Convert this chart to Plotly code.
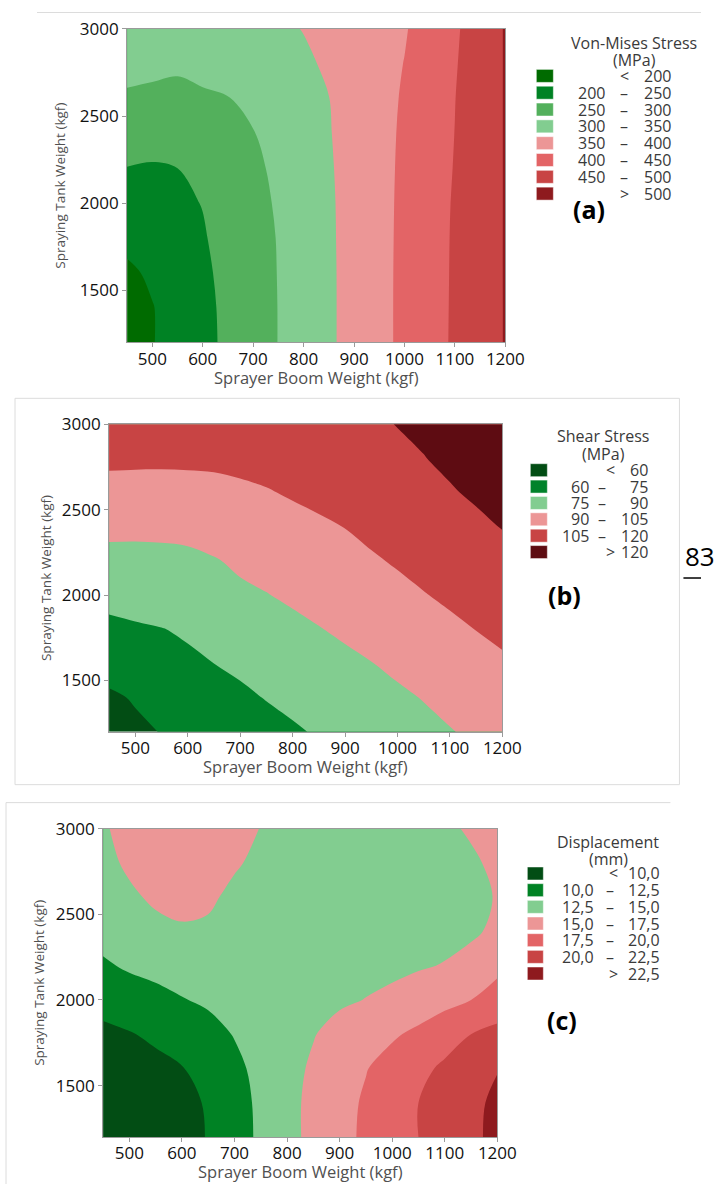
import plotly.graph_objects as go

# ---------------- data ----------------
x_boom = [450, 500, 550, 600, 650, 700, 750, 800, 850, 900, 950, 1000, 1050, 1100, 1150, 1200]
y_tank = [1200, 1400, 1600, 1800, 2000, 2200, 2400, 2600, 2800, 3000]

# (a) Von-Mises stress (MPa), one row per tank weight
von_mises = [
    [178, 198, 218, 238, 258.5, 279.7, 300.8, 322, 343.2, 365.2, 387.5, 410.1, 433, 456, 479.2, 502.3],
    [184, 198.3, 218.2, 238.8, 259.5, 280.2, 300.8, 322, 343.2, 365.2, 387.5, 410.1, 432.7, 455.6, 478.9, 502.3],
    [192, 207, 224.6, 242.3, 261.2, 281.2, 301.3, 322.3, 343.3, 365.2, 387.5, 409.9, 432.4, 455.2, 478.8, 502.4],
    [212, 222, 234, 246.8, 263.7, 282.8, 302.1, 322.9, 343.8, 365.4, 387.3, 409.5, 432, 454.8, 478.6, 502.4],
    [231, 234, 243, 251.1, 268.8, 286.5, 304.8, 324.6, 344.4, 365.5, 387.1, 408.9, 431.2, 453.9, 478.2, 502.4],
    [249, 246, 250, 264, 278, 292, 308, 326.9, 345.8, 366.1, 386.8, 407.9, 429.8, 452, 477.3, 502.5],
    [270.7, 268, 267.5, 277.8, 288.2, 298.5, 314.3, 331, 347.7, 366.8, 386.3, 406.6, 428.5, 450.5, 476.6, 502.6],
    [292.5, 290, 287.5, 292.9, 298.4, 309.6, 322.9, 336.2, 349.5, 367.4, 385.5, 404.4, 426.5, 449.3, 475.5, 502.7],
    [316.4, 311, 307, 314.5, 322, 329.6, 337.2, 344.7, 354.6, 369.9, 385.3, 400.9, 423.9, 446.8, 474.4, 502.8],
    [332, 328, 326, 328, 333, 338, 344, 351, 363.2, 374.4, 385.7, 396.9, 418.4, 443.9, 472.9, 503],
]
vm_levels = [200, 250, 300, 350, 400, 450, 500]
vm_colors = ["#006b00", "#008224", "#53b05c", "#82cd90", "#ec9696", "#e36466", "#c84444", "#8e1a1e"]

# (b) Shear stress (MPa)
shear = [
    [53, 57.7, 60.4, 63, 65.6, 68.3, 70.9, 73.5, 76.2, 78.8, 81.4, 84.1, 86.8, 89.4, 92.1, 94.7],
    [58.1, 61, 63.9, 66.8, 69.7, 72.7, 75.5, 78, 80.5, 83, 85.5, 88, 90.5, 93.3, 96.2, 99],
    [65.1, 67.6, 70, 72.5, 75, 77.4, 79.9, 82.3, 84.8, 87.2, 89.7, 92.4, 95.1, 97.8, 100.6, 103.3],
    [72, 73.3, 74.6, 76.8, 79.3, 81.9, 84.4, 87, 89.5, 92.1, 94.8, 97.4, 100, 102.6, 105.2, 107.6],
    [79, 80.8, 82.5, 84.3, 86.1, 87.9, 89.6, 92, 94.5, 97, 99.5, 102, 104.5, 107, 109.4, 111.9],
    [86, 86, 86.3, 86.8, 89.2, 91.9, 94.2, 96.6, 99, 101.3, 103.7, 106.1, 108.6, 111.1, 113.6, 116.1],
    [93.2, 93, 93.3, 94.2, 95.5, 97.3, 99.4, 101.2, 103, 105.2, 107.8, 110.3, 112.8, 115.3, 117.8, 120.4],
    [100.4, 100.1, 100.1, 100.4, 101, 102.6, 104.2, 106.2, 108.3, 110.5, 112.6, 114.8, 116.9, 119.1, 121.5, 123.8],
    [107.6, 107.4, 107.3, 107.4, 107.7, 108.4, 109.3, 110.5, 111.8, 114, 116.5, 118.3, 119.7, 122, 124.5, 127],
    [114.5, 114.3, 114.2, 114.3, 114.6, 115, 115.5, 116, 116.6, 117.6, 118.8, 120.2, 122, 124, 126, 128],
]
sh_levels = [60, 75, 90, 105, 120]
sh_colors = ["#024d14", "#00822a", "#82cd90", "#ec9696", "#c84444", "#5e0c12"]

# (c) Displacement (mm)
displacement = [
    [7.5, 8.0, 8.6, 9.3, 10.1, 11.5, 12.9, 14.3, 15.6, 16.8, 17.9, 19.0, 20.0, 21.0, 22.0, 23.1],
    [7.6, 8.1, 8.7, 9.4, 10.2, 11.5, 13.0, 14.3, 15.6, 16.7, 17.8, 18.9, 20.0, 21.0, 21.9, 23.0],
    [8.3, 8.8, 9.4, 9.9, 10.9, 12.0, 13.1, 14.3, 15.3, 16.4, 17.4, 18.4, 19.4, 20.4, 21.4, 22.4],
    [9.5, 9.86, 10.4, 11.1, 11.8, 12.6, 13.3, 14.1, 14.9, 15.7, 16.4, 17.2, 18.0, 19.0, 20.0, 20.6],
    [10.8, 11.35, 11.9, 12.4, 12.8, 13.2, 13.6, 13.9, 14.3, 14.7, 15.05, 15.5, 16.1, 16.8, 17.5, 18.7],
    [12.2, 12.8, 13.1, 13.4, 13.6, 13.8, 13.9, 14.0, 14.1, 14.25, 14.4, 14.5, 14.8, 15.1, 15.9, 16.8],
    [13.3, 14.0, 14.5, 14.8, 14.7, 14.4, 14.1, 13.9, 13.9, 13.9, 14.0, 14.1, 14.25, 14.4, 14.6, 15.5],
    [13.9, 14.7, 15.3, 15.5, 15.3, 14.6, 14.2, 14.0, 13.9, 13.9, 14.0, 14.1, 14.2, 14.35, 14.55, 15.1],
    [14.5, 15.3, 15.8, 16.0, 15.8, 15.2, 14.6, 14.2, 14.0, 13.9, 14.0, 14.1, 14.3, 14.5, 14.75, 15.35],
    [14.8, 15.6, 16.2, 16.4, 16.2, 15.7, 14.95, 14.5, 14.2, 14.1, 14.1, 14.2, 14.4, 14.7, 15.2, 16.0],
]
dp_levels = [10.0, 12.5, 15.0, 17.5, 20.0, 22.5]
dp_colors = ["#024d14", "#008224", "#82cd90", "#ec9696", "#e36466", "#c84444", "#8e1a1e"]
dp_labels = ["10,0", "12,5", "15,0", "17,5", "20,0", "22,5"]

x_ticks = [500, 600, 700, 800, 900, 1000, 1100, 1200]
y_ticks = [1500, 2000, 2500, 3000]

# ---------------- layout helpers (reference pixel -> paper) ----------------
W, H = 720, 1184
FONT = "Open Sans"
SX, OY, SY = 0.973, 10.0, 0.9916   # measured render correction


def px(x):
    return min(x / SX, W) / W


def py(y):
    return 1 - max((y - OY) / SY, 0.5) / H


panels = [
    dict(z=von_mises, levels=vm_levels, colors=vm_colors, labels=[str(v) for v in vm_levels],
         box=(127, 505, 27, 341), title=("Von-Mises Stress", "(MPa)"), tcx=634, t1y=41, t2y=58,
         sw=(536, 553), row0=74, dy=16.85, lnum=607, mid=624, lt=624, rnum=673,
         tag="(a)", tagxy=(589, 207), ytitle_x=60),
    dict(z=shear, levels=sh_levels, colors=sh_colors, labels=[str(v) for v in sh_levels],
         box=(109, 502, 423, 731), title=("Shear Stress", "(MPa)"), tcx=603, t1y=435, t2y=453,
         sw=(530, 547), row0=469, dy=16.4, lnum=591, mid=602, lt=610, rnum=650,
         tag="(b)", tagxy=(564, 594), ytitle_x=46),
    dict(z=displacement, levels=dp_levels, colors=dp_colors, labels=dp_labels,
         box=(103, 497, 828, 1137), title=("Displacement", "(mm)"), tcx=608, t1y=841, t2y=858,
         sw=(527, 543), row0=873, dy=16.7, lnum=596, mid=610, lt=613, rnum=662,
         tag="(c)", tagxy=(562, 1020), ytitle_x=39),
]

fig = go.Figure()
shapes = []
annotations = []
layout_axes = {}
LEG_FONT = dict(family=FONT, size=16, color="#3a3a3a")

for i, p in enumerate(panels, start=1):
    sfx = "" if i == 1 else str(i)
    lv = p["levels"]
    n = len(lv)
    step = lv[1] - lv[0]
    cscale = [[k / n, c] for k, c in enumerate(p["colors"])]
    fig.add_trace(go.Contour(
        x=x_boom, y=y_tank, z=p["z"],
        xaxis="x" + sfx, yaxis="y" + sfx,
        autocontour=False,
        contours=dict(start=lv[0], end=lv[-1], size=step, coloring="fill", showlines=False),
        colorscale=cscale, showscale=False,
        line=dict(width=0, smoothing=1.0),
        hoverinfo="skip",
    ))
    l, r, t, b = p["box"]
    axis_common = dict(showgrid=False, zeroline=False, showline=True, linecolor="#9a9a9a",
                       linewidth=1, mirror=True, ticks="outside", ticklen=4, tickcolor="#9a9a9a",
                       tickfont=dict(family=FONT, size=17, color="#111111"))
    layout_axes["xaxis" + sfx] = dict(domain=[px(l), px(r)], range=[450, 1200], tickvals=x_ticks,
                                      anchor="y" + sfx, ticklabelstandoff=-3, **axis_common)
    layout_axes["yaxis" + sfx] = dict(domain=[py(b), py(t)], range=[1200, 3000], tickvals=y_ticks,
                                      anchor="x" + sfx, **axis_common)
    # axis titles
    annotations.append(dict(text="Sprayer Boom Weight (kgf)", x=px((l + r) / 2), y=py(b + 35),
                            xref="paper", yref="paper", showarrow=False, xanchor="center", yanchor="middle",
                            font=dict(family=FONT, size=16.5, color="#505050")))
    annotations.append(dict(text="Spraying Tank Weight (kgf)", x=px(p["ytitle_x"]), y=py((t + b) / 2),
                            xref="paper", yref="paper", showarrow=False, textangle=-90,
                            xanchor="center", yanchor="middle",
                            font=dict(family=FONT, size=13.5, color="#505050")))
    # legend titles
    for txt, yy in ((p["title"][0], p["t1y"]), (p["title"][1], p["t2y"])):
        annotations.append(dict(text=txt, x=px(p["tcx"]), y=py(yy), xref="paper", yref="paper",
                                showarrow=False, xanchor="center", yanchor="middle", font=LEG_FONT))
    # legend rows
    labs = p["labels"]
    for k, c in enumerate(p["colors"]):
        yc = p["row0"] + k * p["dy"]
        shapes.append(dict(type="rect", xref="paper", yref="paper",
                           x0=px(p["sw"][0]), x1=px(p["sw"][1]), y0=py(yc + 6.5), y1=py(yc - 6.5),
                           fillcolor=c, line=dict(width=0.8, color="rgba(255,255,255,0.6)")))
        if k == 0:
            left, mid, right, mx = "", "<", labs[0], p["lt"]
        elif k == len(p["colors"]) - 1:
            left, mid, right, mx = "", ">", labs[-1], p["lt"]
        else:
            left, mid, right, mx = labs[k - 1], "\u2013", labs[k], p["mid"]
        if left:
            annotations.append(dict(text=left, x=px(p["lnum"]), y=py(yc), xref="paper", yref="paper",
                                    showarrow=False, xanchor="right", yanchor="middle", font=LEG_FONT))
        annotations.append(dict(text=mid, x=px(mx), y=py(yc), xref="paper", yref="paper",
                                showarrow=False, xanchor="center", yanchor="middle", font=LEG_FONT))
        annotations.append(dict(text=right, x=px(p["rnum"]), y=py(yc), xref="paper", yref="paper",
                                showarrow=False, xanchor="right", yanchor="middle", font=LEG_FONT))
    # panel tag
    annotations.append(dict(text="<b>%s</b>" % p["tag"], x=px(p["tagxy"][0]), y=py(p["tagxy"][1]),
                            xref="paper", yref="paper", showarrow=False, xanchor="center", yanchor="middle",
                            font=dict(family=FONT, size=25, color="#000000")))

# page decorations (frames, page number)
frame = dict(color="#dcdcdc", width=1)
shapes += [
    dict(type="line", xref="paper", yref="paper", x0=px(37), x1=px(720), y0=py(1), y1=py(1), line=frame),
    dict(type="rect", xref="paper", yref="paper", x0=px(15), x1=px(679), y0=py(784), y1=py(397), line=frame),
    dict(type="line", xref="paper", yref="paper", x0=px(6), x1=px(670), y0=py(802), y1=py(802), line=frame),
    dict(type="line", xref="paper", yref="paper", x0=px(6), x1=px(6), y0=py(802), y1=0, line=frame),
    dict(type="line", xref="paper", yref="paper", x0=px(683), x1=1, y0=py(577), y1=py(577),
         line=dict(color="#000000", width=1.5)),
]
annotations.append(dict(text="83", x=px(700), y=py(555), xref="paper", yref="paper", showarrow=False,
                        xanchor="center", yanchor="middle", font=dict(family=FONT, size=26, color="#000000")))

fig.update_layout(
    width=W, height=H, margin=dict(l=0, r=0, t=0, b=0),
    paper_bgcolor="white", plot_bgcolor="white", showlegend=False,
    shapes=shapes, annotations=annotations, **layout_axes,
)

fig.write_html("out.html")
